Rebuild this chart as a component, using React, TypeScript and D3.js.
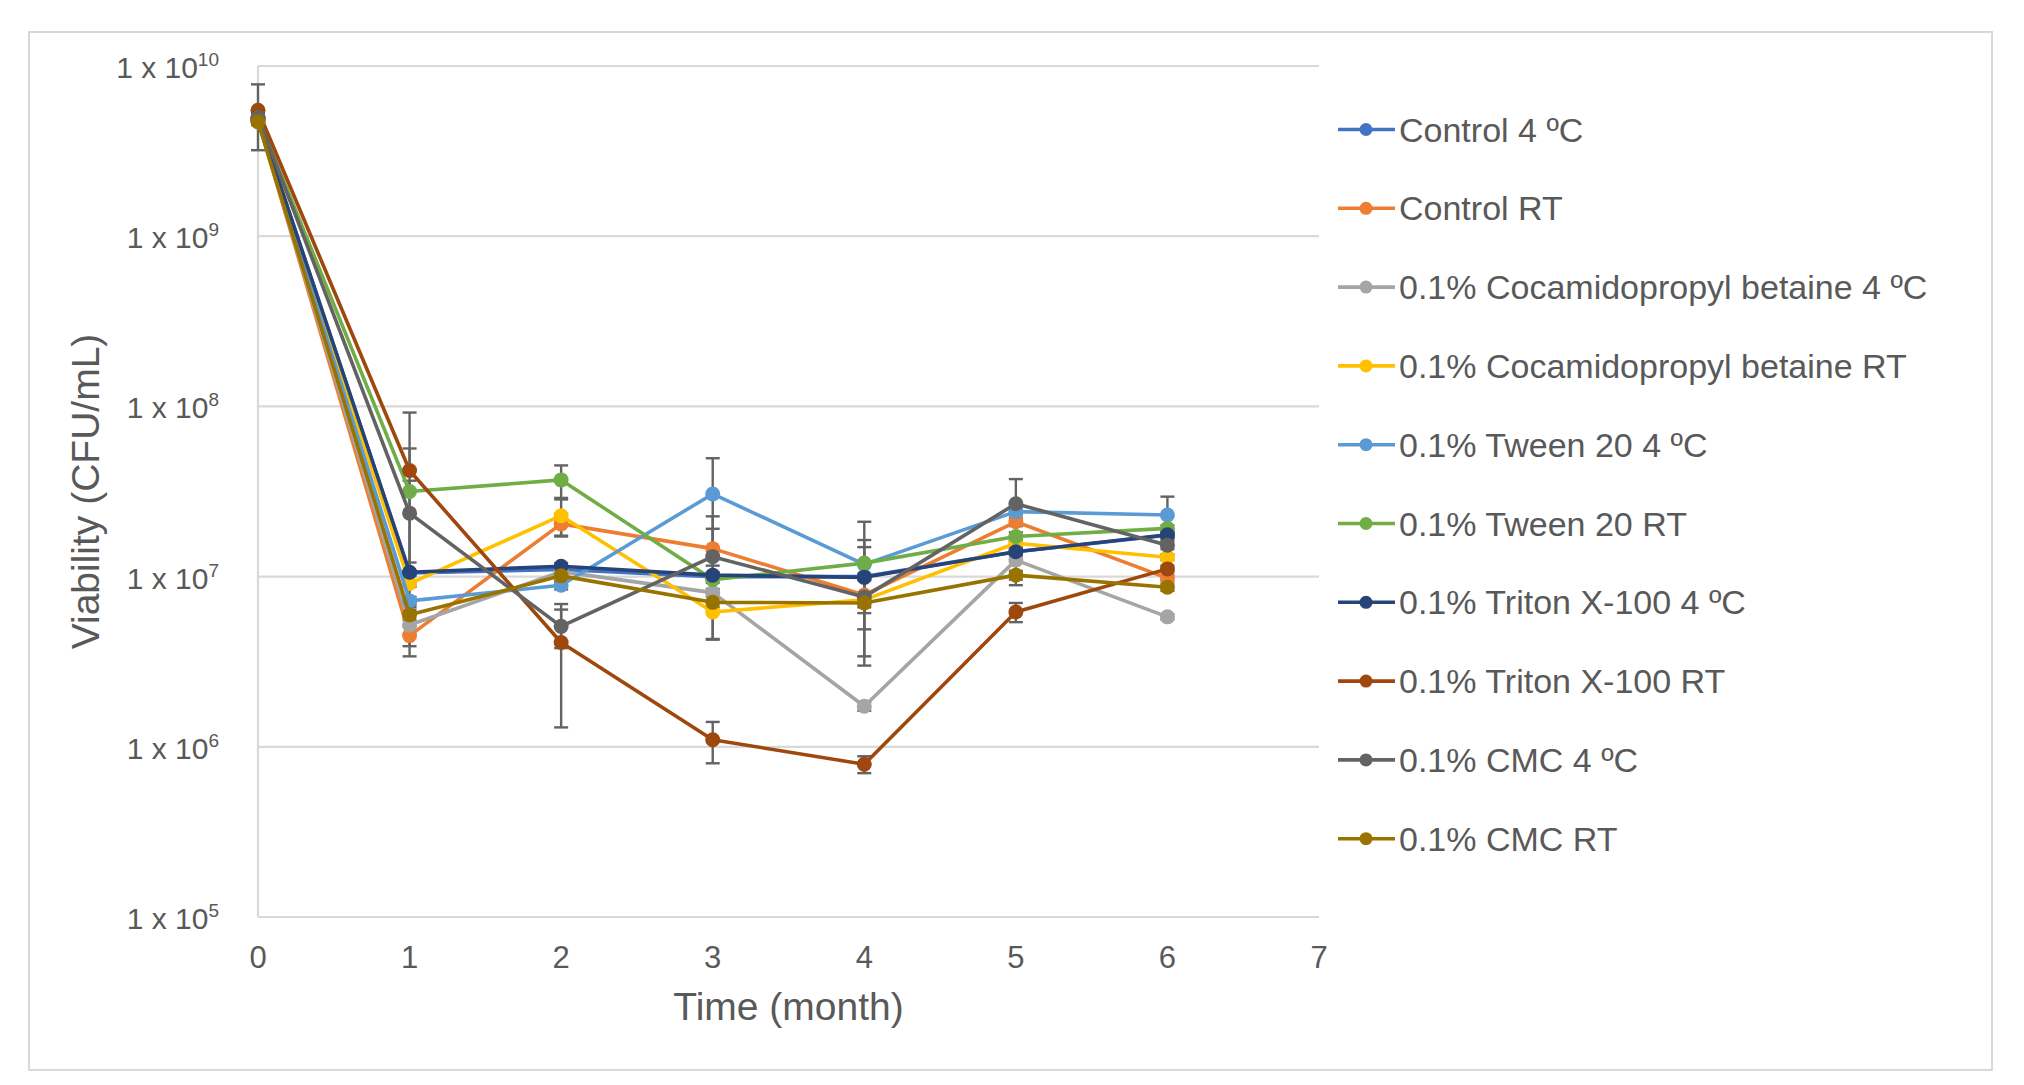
import React from "react";
import * as d3 from "d3";

const months = [0, 1, 2, 3, 4, 5, 6];
const xTicks = [0, 1, 2, 3, 4, 5, 6, 7];
const yExponents = [10, 9, 8, 7, 6, 5];

const seriesNames = [
  "Control 4 ºC",
  "Control RT",
  "0.1% Cocamidopropyl betaine 4 ºC",
  "0.1% Cocamidopropyl betaine RT",
  "0.1% Tween 20 4 ºC",
  "0.1% Tween 20 RT",
  "0.1% Triton X-100 4 ºC",
  "0.1% Triton X-100 RT",
  "0.1% CMC 4 ºC",
  "0.1% CMC RT",
];

const seriesColors = [
  "#4472C4", "#ED7D31", "#A5A5A5", "#FFC000", "#5B9BD5",
  "#70AD47", "#264478", "#9E480E", "#636363", "#997300",
];

const control4 = [4.9e9, 1.05e7, 1.1e7, 1.0e7, 1.0e7, 1.4e7, 1.75e7];
const controlRT = [4.8e9, 4.5e6, 2.04e7, 1.46e7, 7.8e6, 2.1e7, 9.8e6];
const capb4 = [4.8e9, 5.2e6, 1.07e7, 8.05e6, 1.73e6, 1.25e7, 5.8e6];
const capbRT = [4.7e9, 9.1e6, 2.28e7, 6.2e6, 7.3e6, 1.57e7, 1.3e7];
const tween4 = [4.8e9, 7.2e6, 8.9e6, 3.06e7, 1.18e7, 2.41e7, 2.3e7];
const tweenRT = [5.0e9, 3.16e7, 3.7e7, 9.6e6, 1.2e7, 1.72e7, 1.92e7];
const triton4 = [4.9e9, 1.06e7, 1.15e7, 1.02e7, 9.9e6, 1.4e7, 1.76e7];
const tritonRT = [5.5e9, 4.2e7, 4.1e6, 1.1e6, 7.9e5, 6.2e6, 1.11e7];
const cmc4 = [5.0e9, 2.36e7, 5.1e6, 1.31e7, 7.6e6, 2.68e7, 1.53e7];
const cmcRT = [4.7e9, 5.96e6, 1.01e7, 7.06e6, 7.0e6, 1.02e7, 8.65e6];

const sdControl4 = [2e8, 4e5, 5e5, 4e5, 4e5, 5e5, 5e5];
const sdControlRT = [2e8, 6e5, 3e6, 8e6, 1.7e6, 1.2e6, 4e5];
const sdCapb4 = [2e8, 1.8e6, 5e5, 4e5, 1e5, 3.6e6, 2e5];
const sdCapbRT = [2e8, 4e5, 5.6e6, 1.9e6, 4e5, 8e5, 5e5];
const sdTween4 = [2e8, 4e5, 5e5, 1.9e7, 4.6e6, 1.0e6, 6.5e6];
const sdTweenRT = [2e8, 2.5e7, 8e6, 4e5, 9e6, 1.0e6, 8e5];
const sdTriton4 = [2e8, 1.5e6, 5e5, 4e5, 5e6, 8e5, 8e5];
const sdTritonRT = [2.3e9, 5.0e7, 2.8e6, 3e5, 9e4, 8e5, 5e5];
const sdCmc4 = [2e8, 1.3e7, 1.3e6, 6e6, 4.2e6, 1.06e7, 8e5];
const sdCmcRT = [2e8, 4e5, 8e5, 2.8e6, 4e5, 6e5, 4e5];

const seriesValues = [control4, controlRT, capb4, capbRT, tween4, tweenRT, triton4, tritonRT, cmc4, cmcRT];
const seriesErrors = [sdControl4, sdControlRT, sdCapb4, sdCapbRT, sdTween4, sdTweenRT, sdTriton4, sdTritonRT, sdCmc4, sdCmcRT];

const W = 2024;
const H = 1085;
const FONT = "'Liberation Sans', Arial, Helvetica, sans-serif";
const TEXT = "#595959";
const GRID = "#D9D9D9";
const ERR = "#636363";

export default function App() {
  const x = d3.scaleLinear().domain([0, 7]).range([258, 1319]);
  const y = d3.scaleLog().domain([1e5, 1e10]).range([917, 66]);
  const line = d3
    .line<number>()
    .x((_, i) => x(months[i]))
    .y((v) => y(v));

  const legendX = 1338;
  const legendY0 = 129.5;
  const legendStep = 78.8;

  return (
    <div>
      <style>{"body{margin:0;background:#fff}"}</style>
      <svg width={W} height={H} style={{ display: "block" }} fontFamily={FONT}>
        <rect x={0} y={0} width={W} height={H} fill="#fff" />
        <rect x={29} y={32} width={1963} height={1038} fill="#fff" stroke={GRID} strokeWidth={2} />

        {/* gridlines */}
        {yExponents.map((e) => (
          <line key={"g" + e} x1={x(0)} x2={x(7)} y1={y(Math.pow(10, e))} y2={y(Math.pow(10, e))} stroke={GRID} strokeWidth={2.2} />
        ))}
        <line x1={x(0)} x2={x(0)} y1={y(1e10)} y2={y(1e5)} stroke={GRID} strokeWidth={2.2} />

        {/* y tick labels */}
        {yExponents.map((e) => (
          <text key={"yl" + e} x={219} y={y(Math.pow(10, e)) + 12} textAnchor="end" fontSize={30} fill={TEXT}>
            1 x 10
            <tspan fontSize={19} dy={-12}>{e}</tspan>
          </text>
        ))}

        {/* x tick labels */}
        {xTicks.map((t) => (
          <text key={"xl" + t} x={x(t)} y={968} textAnchor="middle" fontSize={31} fill={TEXT}>
            {t}
          </text>
        ))}

        {/* axis titles */}
        <text x={(x(0) + x(7)) / 2} y={1020} textAnchor="middle" fontSize={39} fill={TEXT}>
          Time (month)
        </text>
        <text
          transform={`translate(99, ${(y(1e10) + y(1e5)) / 2}) rotate(-90)`}
          textAnchor="middle"
          fontSize={39}
          fill={TEXT}
        >
          Viability (CFU/mL)
        </text>

        {/* error bars */}
        {seriesValues.map((vals, si) =>
          vals.map((v, i) => {
            const sd = seriesErrors[si][i];
            const cx = x(months[i]);
            const hi = y(v + sd);
            const lo = v - sd > 0 ? y(v - sd) : y(v);
            return (
              <g key={"e" + si + "-" + i} stroke={ERR} strokeWidth={2.4}>
                <line x1={cx} x2={cx} y1={hi} y2={lo} />
                <line x1={cx - 7} x2={cx + 7} y1={hi} y2={hi} />
                {v - sd > 0 && <line x1={cx - 7} x2={cx + 7} y1={lo} y2={lo} />}
              </g>
            );
          })
        )}

        {/* series */}
        {seriesValues.map((vals, si) => (
          <g key={"s" + si}>
            <path d={line(vals) || ""} fill="none" stroke={seriesColors[si]} strokeWidth={3.6} strokeLinejoin="round" />
            {vals.map((v, i) => (
              <circle key={i} cx={x(months[i])} cy={y(v)} r={7.5} fill={seriesColors[si]} />
            ))}
          </g>
        ))}

        {/* legend */}
        {seriesNames.map((name, i) => {
          const cy = legendY0 + i * legendStep;
          return (
            <g key={"lg" + i}>
              <line x1={legendX} x2={legendX + 57} y1={cy} y2={cy} stroke={seriesColors[i]} strokeWidth={3.6} />
              <circle cx={legendX + 28} cy={cy} r={6.5} fill={seriesColors[i]} />
              <text x={legendX + 61} y={cy + 12} fontSize={34} fill={TEXT}>
                {name}
              </text>
            </g>
          );
        })}
      </svg>
    </div>
  );
}
